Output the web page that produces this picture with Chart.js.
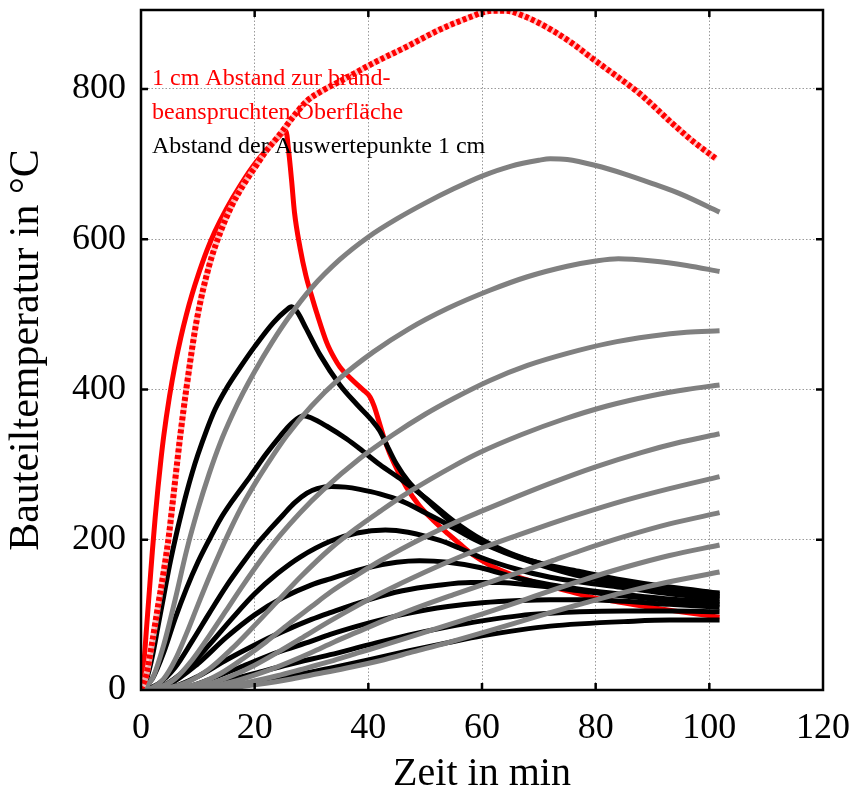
<!DOCTYPE html>
<html>
<head>
<meta charset="utf-8">
<script src="https://cdn.jsdelivr.net/npm/chart.js@4/dist/chart.umd.min.js"></script>
<style>
html,body{margin:0;padding:0;background:#fff;}
#wrap{width:852px;height:794px;position:relative;}
</style>
</head>
<body>
<div id="wrap"><canvas id="c"></canvas></div>
<script>
// ---- axis ticks ----
const xTicks = [0, 20, 40, 60, 80, 100, 120];
const yTicks = [0, 200, 400, 600, 800];
const xMax = 120, yMax = 905;

// ---- annotation texts ----
const noteRed = ["1 cm Abstand zur brand-", "beanspruchten Oberfläche"];
const noteBlack = "Abstand der Auswertepunkte 1 cm";

// ---- series: [time in min, temperature in °C] ----
const redSolid = [[0,0],[0.5,35],[1,85],[1.5,135],[2,185],[2.5,230],[3,270],[3.5,306],[4,338],[5,390],[6,433],[7,469],[8,500],[9,527],[10,551],[11.6,585],[13,610],[15,640],[17.5,672],[20,700],[22,718],[24,734],[25.5,744],[26,716],[26.5,678],[27,636],[28,588],[29,552],[30,525],[31,500],[32.7,462],[34,442],[35,430],[37,414],[39,400],[40.3,390],[41,378],[42,354],[43,330],[44.5,302],[46.7,270],[49,245],[51.4,226],[54,208],[56,195],[58.4,180],[61.4,166],[65.4,153],[70,142],[75,132],[79,124],[84,117],[88.9,111],[95,104],[101.8,97]];
const redDotted = [[0,0],[1,22],[2,65],[3,112],[4,158],[4.9,205],[5.7,258],[6.9,338],[8,402],[9.8,492],[12,565],[14,610],[16,645],[18,672],[20,695],[22,717],[24.5,740],[27,765],[29.2,784],[32,798],[35,810],[40.8,834],[46.7,856],[52.6,879],[58.4,897],[60.2,902],[62,904],[64.3,904],[67,898],[70.2,887],[73,875],[76,860],[79.5,840],[83.5,818],[87.7,794],[93.5,754],[97,731],[101.2,707]];

const B1 = [[0,0],[1,15],[2,45],[3,85],[4,125],[5,165],[6,200],[7,232],[8,262],[9,289],[10,313],[11.6,347],[13,373],[15,401],[17.5,430],[20,457],[23.3,489],[25.5,505],[26.5,510],[27.5,503],[29,482],[31.5,446],[35,406],[38,380],[40.5,360],[42,345],[43.5,322],[45,300],[47,278],[50,255],[53,234],[56,215],[60,197],[65,181],[70,169],[77,158],[85,146],[93,137],[101.8,129]];
const B2 = [[0,0],[2,15],[4,50],[6,95],[8,135],[10,170],[12,200],[14,228],[16,251],[19.2,284],[22,314],[24.5,338],[26.5,355],[28.6,365],[30,362],[32.7,351],[36.2,334],[38.5,321],[42,300],[46,279],[50,256],[55,225],[60,200],[65,182],[70,169],[77,155],[85,143],[93,134],[101.8,127]];
const B3 = [[0,0],[3,8],[6,30],[9,65],[12,102],[15,138],[18,170],[20.5,195],[22.7,214],[25,233],[27,249],[29.2,262],[31,268],[33.5,271],[36,270],[38.5,267],[42,261],[46,251],[50,236],[53.8,221],[58,203],[62,189],[66,177],[70,167],[77,152],[85,140],[93,131],[101.8,124]];
const B4 = [[0,0],[4,6],[8,28],[12,60],[16,95],[20,128],[24,155],[28,177],[33.3,198],[38,209],[43,213],[47,210],[52.6,199],[56,189],[59.6,177],[66,161],[72,150],[77,144],[85,136],[93,128],[101.8,121]];
const B5 = [[0,0],[5,8],[10,35],[15,70],[20,100],[25,123],[30,140],[33.3,148],[40,163],[45,170],[49,172],[54,170],[59.6,163],[66.7,148],[72,140],[77.2,134],[85,127],[93,121],[101.8,117]];
const B6 = [[0,0],[6,5],[10,18],[15,40],[20,60],[25,78],[30,94],[33.3,103],[40,120],[46,132],[52,139],[58,143],[63,143],[66.7,141],[72,137],[77.2,132],[85,125],[93,119],[101.8,114]];
const B7 = [[0,0],[8,4],[12,14],[18,32],[24,50],[30,65],[33.3,74],[40,89],[47,102],[54,111],[60,116],[66.7,119],[72,120],[77.2,120],[85,118],[93,114],[101.8,110]];
const B8 = [[0,0],[10,3],[15,12],[20,22],[26,34],[33.3,47],[40,60],[47,73],[54,84],[60,92],[66.7,99],[72,102],[77.2,104],[85,105],[93,105],[101.8,104]];
const B9 = [[0,0],[12,2],[18,8],[24,16],[30,24],[33.3,29],[40,40],[47,52],[54,63],[60,72],[66.7,80],[72,85],[77.2,88],[85,91],[93,93],[101.8,93]];

const G1 = [[0,0],[2,15],[4,60],[6,120],[8,185],[10,240],[12,288],[14,330],[16,365],[18,396],[20,424],[23,462],[26,496],[30,535],[35,573],[40,603],[45,627],[50,648],[55,667],[60,684],[65,697],[70,705],[72,707],[75,706],[80,698],[85,687],[90,674],[95,660],[101.8,636]];
const G2 = [[0,0],[2,3],[4,15],[6,40],[8,75],[10,113],[12,150],[14,185],[16,218],[18,248],[20,274],[22,298],[25.6,338],[30,378],[35,415],[40.9,450],[47,480],[54,508],[61.4,532],[68,550],[75,564],[80,571],[84,574],[90,571],[96,565],[101.8,557]];
const G3 = [[0,0],[3,3],[6,15],[9,40],[12,72],[15,106],[18,140],[21,172],[24.5,206],[28,236],[32,266],[38.5,308],[44.4,340],[50,367],[55,388],[61.4,412],[68,432],[75,448],[82,461],[90,471],[96,476],[101.8,478]];
const G4 = [[0,0],[4,2],[8,10],[12,28],[16,55],[20,86],[24,118],[28,150],[33.3,188],[38,216],[42.1,238],[46,258],[50.8,280],[55,298],[59.6,316],[67,340],[74.2,360],[82,378],[90,392],[96,400],[101.8,406]];
const G5 = [[0,0],[6,2],[10,8],[14,22],[18,42],[22,64],[26,88],[30,111],[33.3,130],[38,153],[42.1,172],[50,204],[55,222],[59.6,237],[66,257],[72,275],[80,297],[88,316],[95,330],[101.8,341]];
const G6 = [[0,0],[8,2],[12,8],[16,19],[20,33],[24,50],[28,68],[33.3,92],[38,112],[42,128],[50,157],[58,183],[66.7,207],[72,221],[77.2,234],[85,252],[93,268],[101.8,284]];
const G7 = [[0,0],[10,2],[14,7],[18,15],[22,25],[26,37],[30,50],[34,64],[38,77],[42,90],[48,108],[55,127],[60,140],[66.7,157],[72,171],[77.2,185],[85,204],[93,221],[101.8,236]];
const G8 = [[0,0],[12,2],[16,6],[20,12],[24,19],[28,27],[33.3,38],[38,49],[42,58],[50,77],[56.7,93],[62,106],[66.7,118],[72,132],[77.2,145],[85,163],[93,179],[101.8,193]];
const G9 = [[0,0],[14,2],[18,5],[22,9],[26,14],[30,20],[36,29],[42,39],[48,51],[54,63],[60,76],[66.7,91],[72,103],[77.2,114],[85,130],[93,144],[101.8,157]];

const blacks = [B1,B2,B3,B4,B5,B6,B7,B8,B9];
const grays = [G1,G2,G3,G4,G5,G6,G7,G8,G9];

const pts = a => a.map(p => ({x:p[0], y:p[1]}));
const base = {pointRadius:0, fill:false, cubicInterpolationMode:'monotone', borderCapStyle:'butt', borderJoinStyle:'round'};

const datasets = [];
datasets.push(Object.assign({}, base, {label:'dotted', data:pts(redDotted), borderColor:'#ff0000', borderWidth:6, borderDash:[4,2.5], order:0}));
datasets.push(Object.assign({}, base, {label:'dottedBack', data:pts(redDotted), borderColor:'rgba(255,190,190,0.9)', borderWidth:6, order:1}));
grays.forEach((g,i) => datasets.push(Object.assign({}, base, {label:'G'+(i+1), data:pts(g), borderColor:'#808080', borderWidth:5, order:2})));
blacks.forEach((b,i) => datasets.push(Object.assign({}, base, {label:'B'+(i+1), data:pts(b), borderColor:'#000000', borderWidth:5, order:3})));
datasets.push(Object.assign({}, base, {label:'red', data:pts(redSolid), borderColor:'#ff0000', borderWidth:5, order:4}));

const FONT = "'Liberation Serif', 'Times New Roman', serif";

const framePlugin = {
  id:'frame',
  afterDraw(chart){
    const {ctx, chartArea:a, scales} = chart;
    ctx.save();
    ctx.strokeStyle = '#000';
    ctx.lineWidth = 2.5;
    const tl = 7;
    ctx.beginPath();
    xTicks.forEach(v => {
      if (v === 0 || v === xMax) return;
      const px = scales.x.getPixelForValue(v);
      ctx.moveTo(px, a.bottom); ctx.lineTo(px, a.bottom - tl);
      ctx.moveTo(px, a.top); ctx.lineTo(px, a.top + tl);
    });
    yTicks.forEach(v => {
      if (v === 0) return;
      const py = scales.y.getPixelForValue(v);
      ctx.moveTo(a.left, py); ctx.lineTo(a.left + tl, py);
      ctx.moveTo(a.right, py); ctx.lineTo(a.right - tl, py);
    });
    ctx.stroke();
    ctx.strokeRect(a.left, a.top, a.right - a.left, a.bottom - a.top);
    // annotations
    ctx.font = "24px " + FONT;
    ctx.textBaseline = 'alphabetic';
    ctx.textAlign = 'left';
    ctx.fillStyle = '#ff0000';
    ctx.fillText(noteRed[0], 152, 85);
    ctx.fillText(noteRed[1], 152, 119);
    ctx.fillStyle = '#000';
    ctx.fillText(noteBlack, 152, 153);
    ctx.restore();
  }
};

new Chart(document.getElementById('c'), {
  type:'line',
  data:{datasets},
  options:{
    responsive:true,
    maintainAspectRatio:false,
    animation:false,
    events:[],
    layout:{padding:{top:10, right:29, left:0, bottom:0}},
    plugins:{legend:{display:false}, tooltip:{enabled:false}},
    scales:{
      x:{
        type:'linear', min:0, max:xMax,
        afterBuildTicks: s => { s.ticks = xTicks.map(v => ({value:v})); },
        afterFit: s => { s.height = 104; s.paddingLeft = 0; s.paddingRight = 0; },
        grid:{color:'#9a9a9a', lineWidth:1, drawTicks:false},
        border:{display:false, dash:[1.5,2]},
        ticks:{color:'#000', font:{family:FONT, size:36}, padding:17, maxRotation:0, autoSkip:false},
        title:{display:true, text:'Zeit in min', color:'#000', font:{family:FONT, size:40, lineHeight:1}, padding:{top:0,bottom:0}}
      },
      y:{
        type:'linear', min:0, max:yMax,
        afterBuildTicks: s => { s.ticks = yTicks.map(v => ({value:v})); },
        afterFit: s => { s.width = 141; s.paddingTop = 0; s.paddingBottom = 0; },
        grid:{color:'#9a9a9a', lineWidth:1, drawTicks:false},
        border:{display:false, dash:[1.5,2]},
        ticks:{color:'#000', font:{family:FONT, size:36}, padding:15},
        title:{display:true, text:'Bauteiltemperatur in °C', color:'#000', font:{family:FONT, size:42}, padding:{top:2,bottom:0}}
      }
    }
  },
  plugins:[framePlugin]
});
</script>
</body>
</html>
